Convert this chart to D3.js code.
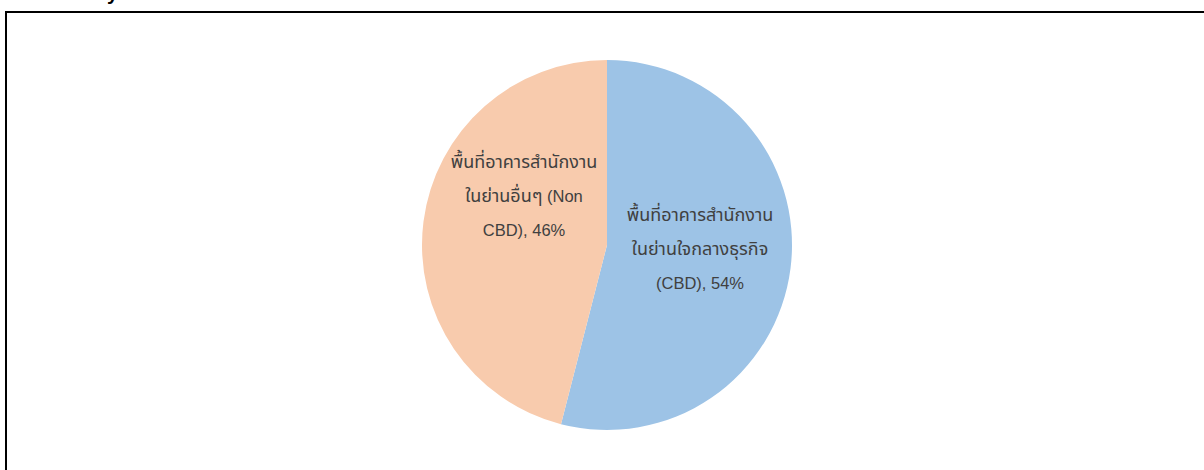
<!DOCTYPE html>
<html><head><meta charset="utf-8">
<script src="https://cdn.jsdelivr.net/npm/d3@7"></script>
<style>
html,body{margin:0;padding:0;background:#fff;}
svg{display:block;}
</style></head>
<body>
<svg id="c" width="1204" height="470"></svg>
<script>
const categories = [
  ["พื้นที่อาคารสำนักงาน", "ในย่านใจกลางธุรกิจ", "(CBD), 54%"],
  ["พื้นที่อาคารสำนักงาน", "ในย่านอื่นๆ (Non", "CBD), 46%"]
];
const values = [54, 46];
const colors = ["#9DC3E6", "#F8CBAD"];

const svg = d3.select("#c");
const W = 1204, H = 470;
svg.append("rect").attr("width", W).attr("height", H).attr("fill", "#fff");

// cut-off title fragment at top (as in the reference)
svg.append("text").attr("x", 107).attr("y", 0)
  .attr("font-family", "Liberation Sans, Arial, sans-serif")
  .attr("font-weight", "bold").attr("font-size", 20).attr("fill", "#000")
  .text("y");

// border
svg.append("path").attr("d", `M6,${H+5} V12 H${W+5}`)
  .attr("fill", "none").attr("stroke", "#000").attr("stroke-width", 2);

const cx = 607, cy = 245, r = 185;
const pie = d3.pie().sort(null).value(d => d)(values);
const arc = d3.arc().innerRadius(0).outerRadius(r);
const g = svg.append("g").attr("transform", `translate(${cx},${cy})`);
g.selectAll("path").data(pie).enter().append("path")
  .attr("d", arc).attr("fill", (d, i) => colors[i]);

const labelPos = [[93, 10], [-83, -43]];
const font = "'Liberation Sans', Arial, 'Noto Sans Thai', sans-serif";
pie.forEach((d, i) => {
  const t = g.append("text")
    .attr("text-anchor", "middle")
    .attr("font-family", font)
    .attr("font-size", 16.5).attr("fill", "#404040");
  categories[i].forEach((line, j) => {
    const ln = t.append("tspan").attr("x", labelPos[i][0])
      .attr("y", labelPos[i][1] + (j - 1) * 34);
    const runs = line.match(/[\u0E00-\u0E7F]+|[^\u0E00-\u0E7F]+/g);
    runs.forEach(run => {
      const thai = /[\u0E00-\u0E7F]/.test(run);
      ln.append("tspan").attr("font-size", thai ? 18 : 16.5).text(run);
    });
  });
});
</script>
</body></html>
